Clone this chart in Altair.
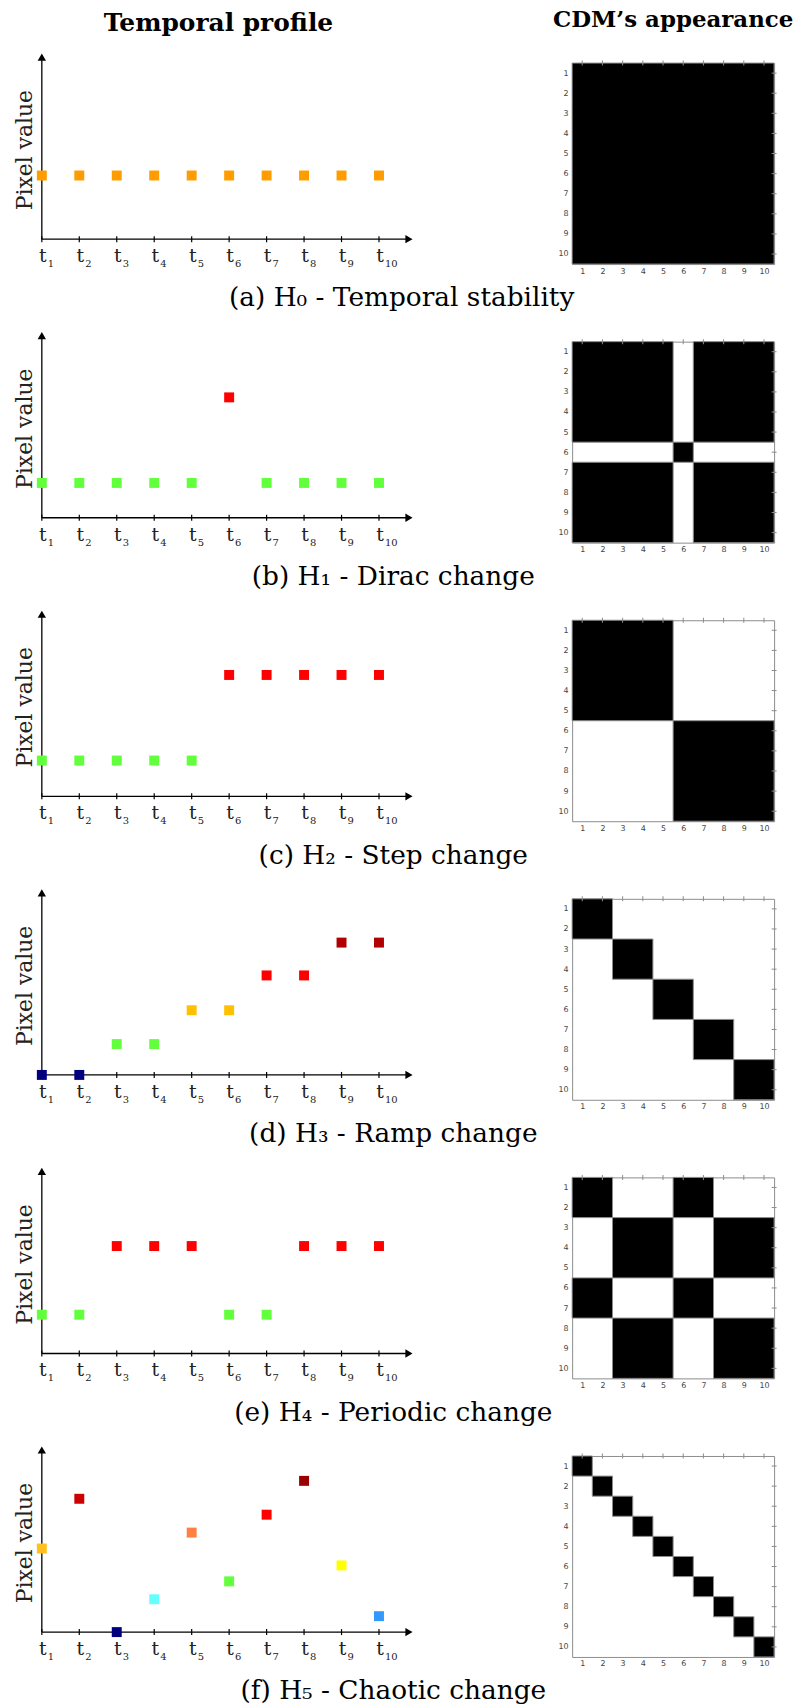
import altair as alt
import pandas as pd

# ---------------- data ----------------
T_INDEX = [1, 2, 3, 4, 5, 6, 7, 8, 9, 10]
T_SUB = ["1", "2", "3", "4", "5", "6", "7", "8", "9", "10"]
CDM_TICKS = [1, 2, 3, 4, 5, 6, 7, 8, 9, 10]

CAPTIONS = [
    "(a) H\u2080 - Temporal stability",
    "(b) H\u2081 - Dirac change",
    "(c) H\u2082 - Step change",
    "(d) H\u2083 - Ramp change",
    "(e) H\u2084 - Periodic change",
    "(f) H\u2085 - Chaotic change",
]

# pixel values (arbitrary units, x-axis = 0)
VALUES_A = [64, 64, 64, 64, 64, 64, 64, 64, 64, 64]
VALUES_B = [35, 35, 35, 35, 35, 121, 35, 35, 35, 35]
VALUES_C = [36, 36, 36, 36, 36, 122, 122, 122, 122, 122]
VALUES_D = [0, 0, 31, 31, 65, 65, 100, 100, 133, 133]
VALUES_E = [39, 39, 108, 108, 108, 39, 39, 108, 108, 108]
VALUES_F = [84, 134, 0, 33, 100, 51, 118, 152, 67, 16]

OR, GR, RD, DR, GD, NV = "#FF9C00", "#62FF3C", "#FF0000", "#B00000", "#FFC000", "#000080"
COLORS_A = [OR, OR, OR, OR, OR, OR, OR, OR, OR, OR]
COLORS_B = [GR, GR, GR, GR, GR, RD, GR, GR, GR, GR]
COLORS_C = [GR, GR, GR, GR, GR, RD, RD, RD, RD, RD]
COLORS_D = [NV, NV, GR, GR, GD, GD, RD, RD, DR, DR]
COLORS_E = [GR, GR, RD, RD, RD, GR, GR, RD, RD, RD]
COLORS_F = ["#FFC020", "#CC0000", "#000080", "#66FFFF", "#FF8040",
            "#62FF3C", "#FF0000", "#990000", "#FFFF00", "#3399FF"]

PANELS = [
    (VALUES_A, COLORS_A), (VALUES_B, COLORS_B), (VALUES_C, COLORS_C),
    (VALUES_D, COLORS_D), (VALUES_E, COLORS_E), (VALUES_F, COLORS_F),
]

X_END = 10.8          # end of the time arrow
Y_TOP = 183           # top of the value arrow
Y_DOMAIN = [-25, 177]
CDM_LO, CDM_HI = 0.5, 10.5

SERIF = "DejaVu Serif"


def profile(vals, cols, header=None):
    pts = pd.DataFrame({"t": T_INDEX, "v": vals, "c": cols, "s": T_SUB,
                        "zero": [0] * len(T_INDEX)})
    axes = pd.DataFrame({"x0": [1], "x1": [X_END], "y0": [0], "y1": [Y_TOP]})
    xs = alt.Scale(domain=[1, X_END], nice=False, zero=False)
    ys = alt.Scale(domain=Y_DOMAIN, nice=False, zero=False)
    yax = alt.Axis(title="Pixel value", domain=False, ticks=False, labels=False,
                   grid=False, titleFont=SERIF, titleFontSize=22,
                   titleFontWeight="normal", titleColor="#222",
                   titleX=-17, titleY=87, titleBaseline="middle")

    def X(f):
        return alt.X(f, scale=xs, axis=None)

    def Y(f):
        return alt.Y(f, scale=ys, axis=yax)

    ax = alt.Chart(axes)
    yline = ax.mark_rule(color="black", strokeWidth=1.3).encode(
        x=X("x0:Q"), y=Y("y0:Q"), y2="y1:Q")
    xline = ax.mark_rule(color="black", strokeWidth=1.3).encode(
        x=X("x0:Q"), x2="x1:Q", y=Y("y0:Q"))
    yarrow = ax.mark_point(shape="triangle-up", filled=True, color="black",
                           size=70, opacity=1).encode(x=X("x0:Q"), y=Y("y1:Q"))
    xarrow = ax.mark_point(shape="triangle-right", filled=True, color="black",
                           size=70, opacity=1).encode(x=X("x1:Q"), y=Y("y0:Q"))
    base = alt.Chart(pts)
    ticks = base.mark_tick(orient="vertical", size=6, thickness=1.2,
                           color="black", opacity=1).encode(x=X("t:Q"), y=Y("zero:Q"))
    tlab = base.mark_text(text="t", font=SERIF, fontSize=19, color="#222",
                          baseline="alphabetic", align="center", dx=1, dy=23).encode(
        x=X("t:Q"), y=Y("zero:Q"))
    slab = base.mark_text(font=SERIF, fontSize=10, color="#222",
                          baseline="alphabetic", align="left", dx=6, dy=28).encode(
        x=X("t:Q"), y=Y("zero:Q"), text="s:N")
    points = base.mark_square(size=100, opacity=1).encode(
        x=X("t:Q"), y=Y("v:Q"), color=alt.Color("c:N", scale=None))
    ch = alt.layer(yline, xline, yarrow, xarrow, ticks, tlab, slab, points).properties(
        width=369, height=202, view=alt.ViewBackground(stroke="transparent"))
    if header:
        ch = ch.properties(title=alt.TitleParams(
            header, font=SERIF, fontSize=25, fontWeight="bold", color="black",
            anchor="middle", offset=18, dx=-7))
    return ch


def cdm(vals, header=None):
    segs = []
    for i, v in zip(T_INDEX, vals):
        if segs and segs[-1][2] == v:
            segs[-1][1] = i
        else:
            segs.append([i, i, v])
    rows = []
    for a in segs:
        for b in segs:
            if a[2] == b[2]:
                rows.append({"x1": a[0] - 0.5, "x2": a[1] + 0.5,
                             "y1": b[0] - 0.5, "y2": b[1] + 0.5})
    df = pd.DataFrame(rows)
    tick_df = pd.DataFrame({"i": CDM_TICKS, "lo": [CDM_LO] * len(CDM_TICKS),
                            "hi": [CDM_HI] * len(CDM_TICKS)})
    xs = alt.Scale(domain=[CDM_LO, CDM_HI], nice=False, zero=False)
    ys = alt.Scale(domain=[CDM_LO, CDM_HI], nice=False, zero=False, reverse=True)
    axis_style = dict(values=CDM_TICKS, title=None, domain=False, ticks=False,
                      grid=False, labelFont="DejaVu Sans", labelFontSize=8,
                      labelColor="#444", format="d")
    xax = alt.Axis(labelPadding=3, **axis_style)
    yax = alt.Axis(labelPadding=4, **axis_style)

    def X(f):
        return alt.X(f, scale=xs, axis=xax)

    def Y(f):
        return alt.Y(f, scale=ys, axis=yax)

    rects = alt.Chart(df).mark_rect(color="black", stroke="#8c8c8c",
                                    strokeWidth=1).encode(
        x=X("x1:Q"), x2="x2:Q", y=Y("y1:Q"), y2="y2:Q")
    tb = alt.Chart(tick_df)
    top_t = tb.mark_tick(orient="vertical", size=5, thickness=1, color="#8c8c8c",
                         opacity=1).encode(x=X("i:Q"), y=Y("lo:Q"))
    right_t = tb.mark_tick(orient="horizontal", size=5, thickness=1, color="#8c8c8c",
                           opacity=1).encode(x=X("hi:Q"), y=Y("i:Q"))
    ch = alt.layer(rects, top_t, right_t).properties(
        width=203, height=202,
        view=alt.ViewBackground(stroke="#8c8c8c", fill="white"))
    if header:
        ch = ch.properties(title=alt.TitleParams(
            header, font=SERIF, fontSize=23, fontWeight="bold", color="black",
            anchor="middle", offset=29))
    return ch


rows = []
for k, ((vals, cols), cap) in enumerate(zip(PANELS, CAPTIONS)):
    p = profile(vals, cols, "Temporal profile" if k == 0 else None)
    c = cdm(vals, "CDM\u2019s appearance" if k == 0 else None)
    row = alt.hconcat(p, c, spacing=164, bounds="flush").properties(
        title=alt.TitleParams(cap, orient="bottom", anchor="middle", font=SERIF,
                              fontSize=26.5, fontWeight="normal", color="black",
                              offset=10, dx=-2))
    rows.append(row)

chart = alt.vconcat(*rows, spacing=19).properties(
    padding={"left": 5, "top": -4, "right": 0, "bottom": 10},
    background="white",
).configure_view(stroke="#8c8c8c")

chart.save("out.html", embed_options={"renderer": "svg", "actions": False})
